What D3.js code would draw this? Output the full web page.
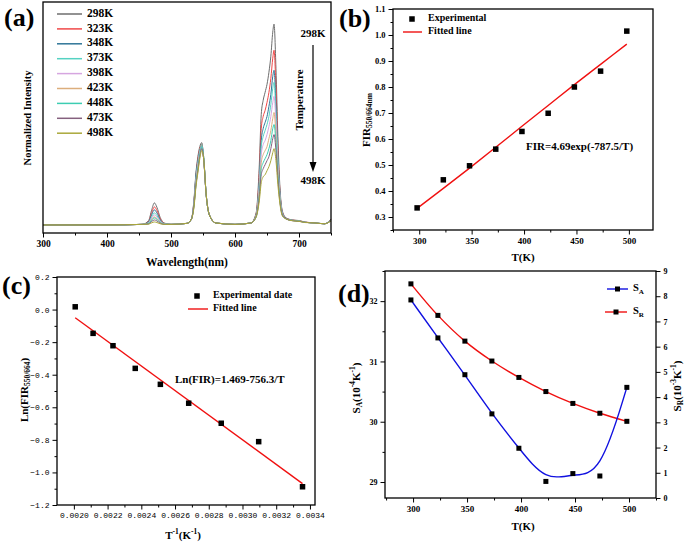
<!DOCTYPE html>
<html><head><meta charset="utf-8">
<script src="https://cdn.jsdelivr.net/npm/d3@7"></script>
<style>body{margin:0;background:#fff}svg{display:block}</style>
</head><body><svg id="c" width="685" height="543"></svg>
<script>
// ---------- DATA ----------
// (a) spectra
const tempLabels = ["298K","323K","348K","373K","398K","423K","448K","473K","498K"];
const tempColors = ["#6e6e6e","#f04848","#2f7598","#55d2c2","#d6a6e0","#dcae7c","#3ccdb2","#85607e","#aaa83a"];
const wavelengths = [300,400,455,465,470,474,478,483,490,500,525,532,536,539,542,545,548,551,555,560,570,600,625,633,638,641,644,647,650,653,656,659,661,664,667,670,674,680,690,700,710,725,740,750];
const spec298 = [0,0,0.003,0.022,0.077,0.11,0.088,0.038,0.009,0.003,0.008, 0.03,0.13,0.26,0.34,0.39,0.41,0.33,0.15,0.05,0.01,0.003, 0.01,0.06,0.3,0.55,0.62,0.66,0.70,0.76,0.84,0.96,1.0,0.78,0.44,0.2,0.07,0.035,0.025,0.022,0.014,0.01,0.006,0.03];
const spec323 = [0,0,0.003,0.018,0.063,0.09,0.072,0.032,0.008,0.003,0.008, 0.03,0.12,0.24,0.33,0.38,0.40,0.34,0.15,0.05,0.01,0.003, 0.01,0.055,0.26,0.48,0.54,0.57,0.61,0.66,0.73,0.83,0.87,0.68,0.39,0.18,0.065,0.033,0.024,0.021,0.014,0.01,0.006,0.028];
const spec348 = [0,0,0.003,0.015,0.053,0.075,0.06,0.026,0.007,0.003,0.008, 0.03,0.12,0.25,0.32,0.37,0.39,0.33,0.15,0.05,0.01,0.003, 0.01,0.05,0.23,0.42,0.48,0.51,0.54,0.59,0.65,0.74,0.77,0.6,0.35,0.17,0.06,0.032,0.023,0.02,0.013,0.01,0.006,0.026];
const spec373 = [0,0,0.003,0.012,0.042,0.06,0.048,0.021,0.006,0.003,0.008, 0.03,0.11,0.23,0.31,0.37,0.40,0.34,0.15,0.05,0.01,0.003, 0.01,0.05,0.21,0.39,0.44,0.47,0.5,0.54,0.6,0.68,0.71,0.56,0.33,0.16,0.06,0.03,0.023,0.02,0.013,0.01,0.006,0.025];
const spec398 = [0,0,0.003,0.01,0.035,0.05,0.04,0.018,0.005,0.003,0.008, 0.03,0.11,0.22,0.3,0.36,0.39,0.33,0.15,0.05,0.01,0.003, 0.01,0.045,0.19,0.35,0.4,0.42,0.45,0.49,0.54,0.61,0.64,0.51,0.3,0.15,0.055,0.03,0.022,0.019,0.013,0.01,0.006,0.024];
const spec423 = [0,0,0.003,0.008,0.028,0.04,0.032,0.014,0.004,0.003,0.008, 0.03,0.1,0.21,0.29,0.35,0.38,0.33,0.15,0.05,0.01,0.003, 0.01,0.045,0.17,0.31,0.35,0.37,0.39,0.43,0.47,0.53,0.56,0.45,0.27,0.14,0.05,0.03,0.022,0.019,0.013,0.01,0.006,0.023];
const spec448 = [0,0,0.003,0.007,0.025,0.035,0.028,0.012,0.004,0.003,0.008, 0.03,0.1,0.2,0.28,0.35,0.39,0.34,0.15,0.05,0.01,0.003, 0.01,0.04,0.15,0.28,0.31,0.33,0.35,0.38,0.42,0.48,0.5,0.41,0.25,0.13,0.05,0.03,0.022,0.019,0.013,0.01,0.006,0.022];
const spec473 = [0,0,0.003,0.005,0.018,0.025,0.02,0.009,0.003,0.003,0.008, 0.03,0.1,0.2,0.27,0.34,0.38,0.33,0.15,0.05,0.01,0.003, 0.01,0.04,0.14,0.25,0.28,0.3,0.32,0.34,0.38,0.43,0.45,0.37,0.23,0.12,0.05,0.03,0.021,0.018,0.013,0.01,0.006,0.021];
const spec498 = [0,0,0.003,0.004,0.011,0.015,0.012,0.006,0.003,0.003,0.008, 0.03,0.09,0.19,0.26,0.33,0.37,0.33,0.15,0.05,0.01,0.003, 0.01,0.04,0.12,0.21,0.24,0.25,0.27,0.29,0.32,0.36,0.38,0.32,0.2,0.11,0.045,0.03,0.021,0.018,0.012,0.01,0.006,0.02];
const spectra = [spec298,spec323,spec348,spec373,spec398,spec423,spec448,spec473,spec498];
const aTicks = [300,400,500,600,700];

// (b)
const bT = [298,323,348,373,398,423,448,473,498];
const bFIR = [0.335,0.443,0.497,0.561,0.629,0.699,0.80,0.861,1.015];
const bFit = [0.333,0.410,0.488,0.568,0.649,0.729,0.809,0.887,0.965];
const bXTicks = [300,350,400,450,500];
const bYTicks = [0.3,0.4,0.5,0.6,0.7,0.8,0.9,1.0,1.1];

// (c)
const cInvT = [0.002008,0.002114,0.002232,0.002364,0.002513,0.002681,0.002874,0.003096,0.003356];
const cLnFIR = [0.017,-0.146,-0.222,-0.361,-0.459,-0.575,-0.698,-0.811,-1.088];
const cFitX = [0.002008,0.003356];
const cFitY = [-0.050,-1.069];
const cXTicks = [0.0020,0.0022,0.0024,0.0026,0.0028,0.0030,0.0032,0.0034];
const cYTicks = [-1.2,-1.0,-0.8,-0.6,-0.4,-0.2,0.0,0.2];

// (d)
const dT = [298,323,348,373,398,423,448,473,498];
const dSA = [32.02,31.39,30.78,30.13,29.56,29.01,29.14,29.10,30.57];
const dSR = [8.49,7.24,6.22,5.43,4.78,4.22,3.75,3.36,3.04];
const dXTicks = [300,350,400,450,500];
const dYLTicks = [29,30,31,32];
const dYRTicks = [0,1,2,3,4,5,6,7,8,9];

// ---------- DRAW ----------
const svg = d3.select("#c");
svg.append("rect").attr("width",685).attr("height",543).attr("fill","#fff");
const serif = "'Liberation Serif','Times New Roman',serif";
const mono = "'Liberation Mono','DejaVu Sans Mono',monospace";

function frame(x, y){
  const [x0,x1]=x.range(), [y0,y1]=y.range();
  svg.append("rect").attr("x",x0).attr("y",y1).attr("width",x1-x0).attr("height",y0-y1)
    .attr("fill","none").attr("stroke","#000").attr("stroke-width",1.3);
}
function addAxis(orient, scale, pos, major, minor, fmt, fam, size, weight){
  const mk = {bottom:d3.axisBottom,left:d3.axisLeft,right:d3.axisRight}[orient];
  const tr = orient==="bottom" ? `translate(0,${pos})` : `translate(${pos},0)`;
  if (minor){
    const gm = svg.append("g").attr("transform",tr).call(mk(scale).tickValues(minor).tickSize(2.5).tickFormat(""));
    gm.select(".domain").remove();
    gm.selectAll("line").attr("stroke","#000").attr("stroke-width",1);
  }
  const g = svg.append("g").attr("transform",tr).call(mk(scale).tickValues(major).tickSize(4.5).tickPadding(3).tickFormat(fmt));
  g.select(".domain").remove();
  g.selectAll("line").attr("stroke","#000").attr("stroke-width",1);
  g.selectAll("text").attr("font-family",fam).attr("font-size",size).attr("font-weight",weight).attr("fill","#000");
  return g;
}
function txt(x,y,s,size,opts={}){
  const t = svg.append("text").attr("x",x).attr("y",y).attr("font-family",opts.family||serif)
    .attr("font-size",size).attr("font-weight",opts.weight||"bold").attr("fill","#000")
    .attr("text-anchor",opts.anchor||"start").attr("dominant-baseline",opts.baseline||"middle");
  if (s) t.text(s);
  if (opts.rotate) t.attr("transform",`rotate(-90,${x},${y})`);
  return t;
}
function rich(x,y,parts,size,opts={}){
  const t = txt(x,y,"",size,opts);
  parts.forEach(p=>{
    const sp = t.append("tspan").text(p.t);
    if (p.sub){ sp.attr("font-size",size*0.68).attr("dy",size*0.28); }
    else if (p.sup){ sp.attr("font-size",size*0.68).attr("dy",-size*0.38); }
    if (p.back) sp.attr("dy",p.back);
  });
  return t;
}
function square(x,y,s){ svg.append("rect").attr("x",x-s/2).attr("y",y-s/2).attr("width",s).attr("height",s).attr("fill","#000"); }

// ===== Panel (a) =====
{
  const x = d3.scaleLinear().domain([300,750]).range([43,331]);
  const y = d3.scaleLinear().domain([-0.04,1.11]).range([233,2]);
  const line = d3.line().x(d=>x(d[0])).y(d=>y(d[1])).curve(d3.curveMonotoneX);
  spectra.forEach((s,i)=>{
    svg.append("path").datum(wavelengths.map((w,j)=>[w,s[j]])).attr("d",line)
      .attr("fill","none").attr("stroke",tempColors[i]).attr("stroke-width",1);
  });
  frame(x,y);
  addAxis("bottom",x,233,aTicks,[350,450,550,650,750],d3.format("d"),serif,9.5,"bold");
  txt(187,263,"Wavelength(nm)",11.5,{anchor:"middle"});
  txt(29,118,"Normalized Intensity",10.5,{anchor:"middle",rotate:true});
  tempLabels.forEach((l,i)=>{
    const yy = 14 + i*14.9;
    svg.append("line").attr("x1",57).attr("x2",82).attr("y1",yy).attr("y2",yy).attr("stroke",tempColors[i]).attr("stroke-width",1.5);
    txt(87,yy,l,11.5);
  });
  txt(313,34,"298K",11,{anchor:"middle"});
  txt(313,181,"498K",11,{anchor:"middle"});
  txt(300,100,"Temperature",11,{anchor:"middle",rotate:true});
  svg.append("line").attr("x1",313).attr("x2",313).attr("y1",45).attr("y2",164).attr("stroke","#000").attr("stroke-width",1.2);
  svg.append("path").attr("d","M309.5,162 L316.5,162 L313,172 Z").attr("fill","#000");
  txt(4,20,"(a)",26);
}

// ===== Panel (b) =====
{
  const x = d3.scaleLinear().domain([275,523]).range([393,653]);
  const y = d3.scaleLinear().domain([0.25,1.1]).range([230,9]);
  svg.append("path").datum(bT.map((t,i)=>[t,bFit[i]])).attr("d",d3.line().x(d=>x(d[0])).y(d=>y(d[1])).curve(d3.curveMonotoneX))
    .attr("fill","none").attr("stroke","#f01010").attr("stroke-width",1.4);
  bT.forEach((t,i)=>square(x(t),y(bFIR[i]),5.5));
  frame(x,y);
  addAxis("bottom",x,230,bXTicks,[275,325,375,425,475],d3.format("d"),serif,9,"bold");
  addAxis("left",y,393,bYTicks,[0.25,0.35,0.45,0.55,0.65,0.75,0.85,0.95,1.05],d3.format(".1f"),serif,8.5,"bold");
  txt(523,258,"T(K)",11,{anchor:"middle"});
  rich(367,120,[{t:"FIR"},{t:"550/664nm",sub:true}],11,{anchor:"middle",rotate:true});
  square(412,19,5.5);
  txt(428,19,"Experimental",10);
  svg.append("line").attr("x1",403).attr("x2",422).attr("y1",32).attr("y2",32).attr("stroke","#f01010").attr("stroke-width",1.4);
  txt(428,32,"Fitted line",10);
  txt(526,147,"FIR=4.69exp(-787.5/T)",11);
  txt(339,21,"(b)",26);
}

// ===== Panel (c) =====
{
  const x = d3.scaleLinear().domain([0.0019,0.00343]).range([57,315]);
  const y = d3.scaleLinear().domain([-1.2,0.2]).range([505,277]);
  svg.append("path").datum(cFitX.map((v,i)=>[v,cFitY[i]])).attr("d",d3.line().x(d=>x(d[0])).y(d=>y(d[1])))
    .attr("fill","none").attr("stroke","#f01010").attr("stroke-width",1.4);
  cInvT.forEach((v,i)=>square(x(v),y(cLnFIR[i]),5.5));
  frame(x,y);
  addAxis("bottom",x,505,cXTicks,[0.0021,0.0023,0.0025,0.0027,0.0029,0.0031,0.0033],d3.format(".4f"),mono,8,"normal");
  addAxis("left",y,57,cYTicks,[-1.1,-0.9,-0.7,-0.5,-0.3,-0.1,0.1],d3.format(".1f"),mono,8,"normal");
  rich(183,536,[{t:"T"},{t:"-1",sup:true},{t:"(K",back:4},{t:"-1",sup:true},{t:")",back:4}],11,{anchor:"middle"});
  rich(25,390,[{t:"Ln(FIR"},{t:"550/664",sub:true},{t:")",back:-3}],11,{anchor:"middle",rotate:true});
  square(197,296,5.5);
  txt(213,296,"Experimental date",10);
  svg.append("line").attr("x1",188).attr("x2",208).attr("y1",309).attr("y2",309).attr("stroke","#f01010").attr("stroke-width",1.4);
  txt(213,309,"Fitted line",10);
  txt(175,380,"Ln(FIR)=1.469-756.3/T",11);
  txt(2,288,"(c)",26);
}

// ===== Panel (d) =====
{
  const x = d3.scaleLinear().domain([274,525]).range([385,656]);
  const yL = d3.scaleLinear().domain([28.735,32.5]).range([498,271]);
  const yR = d3.scaleLinear().domain([0,9]).range([498,271]);
  svg.append("path").datum(dT.map((t,i)=>[t,dSR[i]])).attr("d",d3.line().x(d=>x(d[0])).y(d=>yR(d[1])).curve(d3.curveCatmullRom))
    .attr("fill","none").attr("stroke","#f01010").attr("stroke-width",1.4);
  svg.append("path").datum(dT.map((t,i)=>[t,dSA[i]])).attr("d",d3.line().x(d=>x(d[0])).y(d=>yL(d[1])).curve(d3.curveBasis))
    .attr("fill","none").attr("stroke","#1010e0").attr("stroke-width",1.4);
  dT.forEach((t,i)=>{ square(x(t),yR(dSR[i]),5); square(x(t),yL(dSA[i]),5); });
  frame(x,yL);
  addAxis("bottom",x,498,dXTicks,[275,325,375,425,475,525],d3.format("d"),serif,9,"bold");
  addAxis("left",yL,385,dYLTicks,[29.5,30.5,31.5,32.5],d3.format("d"),serif,8,"bold");
  addAxis("right",yR,656,dYRTicks,null,d3.format("d"),serif,8,"bold");
  txt(523,527,"T(K)",11,{anchor:"middle"});
  rich(357,388,[{t:"S"},{t:"A",sub:true},{t:"(10",back:-3},{t:"-4",sup:true},{t:"K",back:4},{t:"-1",sup:true},{t:")",back:4}],11,{anchor:"middle",rotate:true});
  rich(678,386,[{t:"S"},{t:"R",sub:true},{t:"(10",back:-3},{t:"-3",sup:true},{t:"K",back:4},{t:"-1",sup:true},{t:")",back:4}],11,{anchor:"middle",rotate:true});
  svg.append("line").attr("x1",607).attr("x2",628).attr("y1",289).attr("y2",289).attr("stroke","#1010e0").attr("stroke-width",1.4);
  square(617.5,289,5);
  rich(633,289,[{t:"S"},{t:"A",sub:true}],10.5);
  svg.append("line").attr("x1",605).attr("x2",627).attr("y1",312).attr("y2",312).attr("stroke","#f01010").attr("stroke-width",1.4);
  square(616,312,5);
  rich(633,312,[{t:"S"},{t:"R",sub:true}],10.5);
  txt(338,296,"(d)",26);
}
</script></body></html>
